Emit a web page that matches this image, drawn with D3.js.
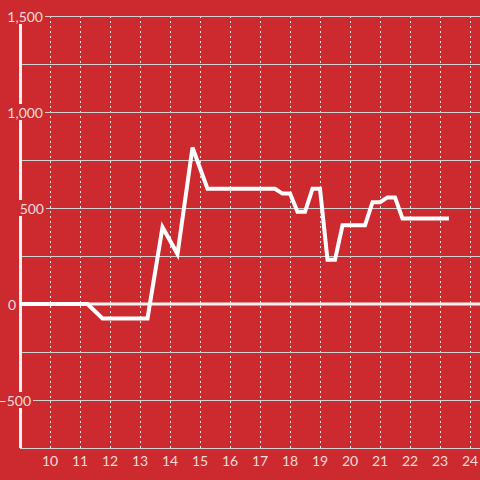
<!DOCTYPE html>
<html><head><meta charset="utf-8">
<script src="https://cdn.jsdelivr.net/npm/d3@7"></script>
<style>html,body{margin:0;padding:0;background:#cc2a2e;}svg{display:block;}</style>
</head><body>
<script>
const hours = [9, 11.25, 11.75, 13.25, 13.75, 14.25, 14.75, 15.25, 17.5, 17.75, 18, 18.25, 18.5, 18.75, 19, 19.25, 19.5, 19.75, 20.5, 20.75, 21, 21.25, 21.5, 21.75, 23.3];
const values = [0, 0, -75, -75, 400, 260, 815, 600, 600, 575, 575, 480, 480, 600, 600, 230, 230, 410, 410, 530, 530, 555, 555, 445, 445];
const xTicks = [10, 11, 12, 13, 14, 15, 16, 17, 18, 19, 20, 21, 22, 23, 24];
const yGrid = [1500, 1250, 1000, 750, 500, 250, 0, -250, -500];
const yLabels = [1500, 1000, 500, 0, -500];

const W = 480, H = 480, bg = "#cc2a2e";
const svg = d3.select("body").append("svg").attr("width", W).attr("height", H);
svg.append("rect").attr("width", W).attr("height", H).attr("fill", bg);

const x = d3.scaleLinear().domain([9, 24]).range([20, 470]);
const y = d3.scaleLinear().domain([-750, 1500]).range([448, 16]);

// vertical dotted grid
svg.append("g").selectAll("line").data(xTicks).join("line")
  .attr("x1", d => x(d) + 0.5).attr("x2", d => x(d) + 0.5)
  .attr("y1", y(1500)).attr("y2", y(-750))
  .attr("stroke", "#e6e6e6").attr("stroke-width", 1).attr("stroke-dasharray", "2,3");

// horizontal grid
svg.append("g").selectAll("line").data(yGrid.filter(d => d !== 0)).join("line")
  .attr("x1", 20).attr("x2", W)
  .attr("y1", d => y(d) + 0.5).attr("y2", d => y(d) + 0.5)
  .attr("stroke", "#d2d2d2").attr("stroke-width", 1);

// bottom line
svg.append("line").attr("x1", 20).attr("x2", W).attr("y1", y(-750) + 0.5).attr("y2", y(-750) + 0.5)
  .attr("stroke", "#d2d2d2").attr("stroke-width", 1);

// zero line
svg.append("line").attr("x1", 20).attr("x2", W).attr("y1", y(0)).attr("y2", y(0))
  .attr("stroke", "#f2f2f2").attr("stroke-width", 3);

// left axis line
svg.append("line").attr("x1", 20.5).attr("x2", 20.5).attr("y1", y(1500)).attr("y2", y(-750))
  .attr("stroke", "#f2f2f2").attr("stroke-width", 3);

// y labels with background boxes
const fmt = d3.format(",");
const labelRight = {"1500": 43, "1000": 43, "500": 44, "0": 16, "-500": 31};
const yl = svg.append("g");
yLabels.forEach(v => {
  const g = yl.append("g");
  const t = g.append("text")
    .attr("x", labelRight[String(v)]).attr("y", y(v) + 6)
    .attr("text-anchor", "end")
    .attr("font-family", "Lato, 'Open Sans', sans-serif").attr("font-size", 14)
    .attr("fill", "#f6dcdc").text(fmt(v));
  const b = t.node().getBBox();
  const rx = Math.max(0, b.x - 2);
  g.insert("rect", "text").attr("x", rx).attr("y", y(v) - 8)
    .attr("width", b.x + b.width + 2 - rx).attr("height", 16).attr("fill", bg);
});

// x labels
svg.append("g").selectAll("text").data(xTicks).join("text")
  .attr("x", d => x(d)).attr("y", 466)
  .attr("text-anchor", "middle")
  .attr("font-family", "Lato, 'Open Sans', sans-serif").attr("font-size", 14)
  .attr("fill", "#f6dcdc").text(d => d);

// data line
const pts = hours.map((h, i) => [h, values[i]]);
svg.append("path").datum(pts)
  .attr("d", d3.line().x(d => x(d[0])).y(d => y(d[1])))
  .attr("fill", "none").attr("stroke", "#ffffff").attr("stroke-width", 4)
  .attr("stroke-linejoin", "miter");
</script>
</body></html>
